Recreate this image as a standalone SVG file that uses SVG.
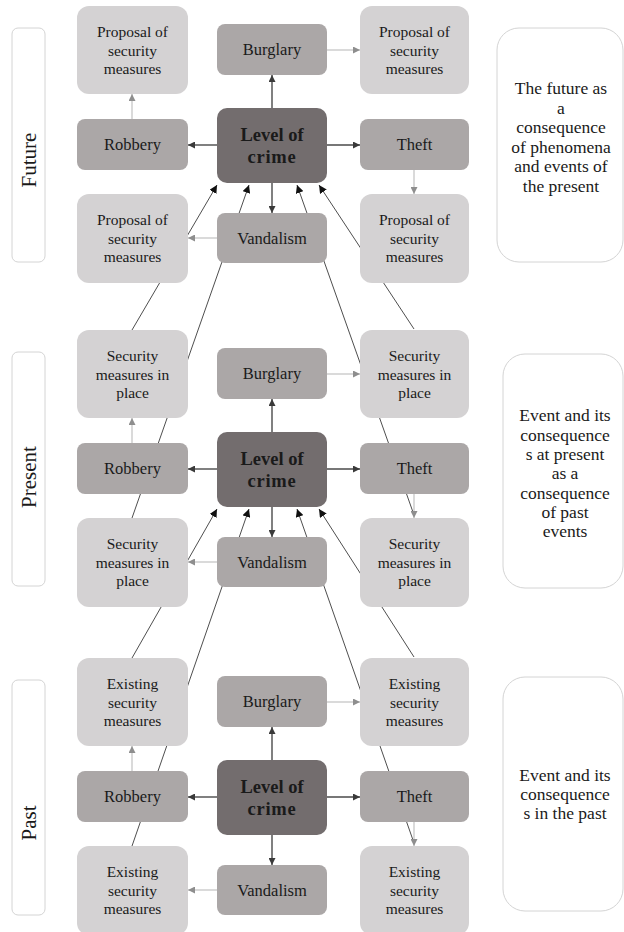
<svg xmlns="http://www.w3.org/2000/svg" width="624" height="932" viewBox="0 0 624 932">
<defs>
<style>
.lt{fill:#d4d2d3;}
.md{fill:#aba7a7;}
.lv{fill:#736d6e;}
.side{fill:#ffffff;stroke:#d4d4d4;stroke-width:1;}
text{font-family:'Liberation Serif','Times New Roman',Times,'DejaVu Serif',serif;fill:#1a1a1a;text-anchor:middle;}
.t15{font-size:15.5px;}
.t16{font-size:16.5px;}
.tb{font-size:18.5px;font-weight:bold;}
.t18{font-size:17.5px;}
.t21{font-size:21px;}
.dk{stroke:#4a4a4a;stroke-width:1.4;fill:none;}
.lg{stroke:#b5b5b5;stroke-width:1;fill:none;}
.xl{stroke:#3a3a3a;stroke-width:0.9;fill:none;}
</style>
<marker id="ad" viewBox="0 0 10 10" refX="10" refY="5" markerWidth="7" markerHeight="7" markerUnits="userSpaceOnUse" orient="auto"><path d="M0,0 L10,5 L0,10 z" fill="#3a3a3a"/></marker>
<marker id="al" viewBox="0 0 10 10" refX="10" refY="5" markerWidth="7" markerHeight="7" markerUnits="userSpaceOnUse" orient="auto"><path d="M0,0 L10,5 L0,10 z" fill="#8e8e8e"/></marker>
<marker id="ax" viewBox="0 0 10 10" refX="10" refY="5" markerWidth="8" markerHeight="8" markerUnits="userSpaceOnUse" orient="auto"><path d="M0,0 L10,5 L0,10 z" fill="#111"/></marker>
</defs>
<rect width="624" height="932" fill="#ffffff"/>

<g id="connectors">
<line class="xl" x1="132" y1="330" x2="217" y2="185" marker-end="url(#ax)"/>
<line class="xl" x1="132" y1="518" x2="249" y2="185" marker-end="url(#ax)"/>
<line class="xl" x1="414" y1="515" x2="297" y2="185" marker-end="url(#ax)"/>
<line class="xl" x1="414" y1="329" x2="319" y2="185" marker-end="url(#ax)"/>
<line class="xl" x1="132" y1="658" x2="217" y2="509" marker-end="url(#ax)"/>
<line class="xl" x1="132" y1="846" x2="249" y2="509" marker-end="url(#ax)"/>
<line class="xl" x1="414" y1="843" x2="297" y2="509" marker-end="url(#ax)"/>
<line class="xl" x1="414" y1="657" x2="319" y2="509" marker-end="url(#ax)"/>
<line class="dk" x1="272" y1="108" x2="272" y2="75" marker-end="url(#ad)"/>
<line class="dk" x1="217" y1="145" x2="188" y2="145" marker-end="url(#ad)"/>
<line class="dk" x1="327" y1="145" x2="360" y2="145" marker-end="url(#ad)"/>
<line class="dk" x1="272" y1="183" x2="272" y2="213" marker-end="url(#ad)"/>
<line class="lg" x1="327" y1="50" x2="360" y2="50" marker-end="url(#al)"/>
<line class="lg" x1="132" y1="119" x2="132" y2="94" marker-end="url(#al)"/>
<line class="lg" x1="414" y1="170" x2="414" y2="194" marker-end="url(#al)"/>
<line class="lg" x1="217" y1="238" x2="188" y2="238" marker-end="url(#al)"/>
<line class="dk" x1="272" y1="432" x2="272" y2="399" marker-end="url(#ad)"/>
<line class="dk" x1="217" y1="469" x2="188" y2="469" marker-end="url(#ad)"/>
<line class="dk" x1="327" y1="469" x2="360" y2="469" marker-end="url(#ad)"/>
<line class="dk" x1="272" y1="507" x2="272" y2="537" marker-end="url(#ad)"/>
<line class="lg" x1="327" y1="374" x2="360" y2="374" marker-end="url(#al)"/>
<line class="lg" x1="132" y1="443" x2="132" y2="418" marker-end="url(#al)"/>
<line class="lg" x1="414" y1="494" x2="414" y2="518" marker-end="url(#al)"/>
<line class="lg" x1="217" y1="562" x2="188" y2="562" marker-end="url(#al)"/>
<line class="dk" x1="272" y1="760" x2="272" y2="727" marker-end="url(#ad)"/>
<line class="dk" x1="217" y1="797" x2="188" y2="797" marker-end="url(#ad)"/>
<line class="dk" x1="327" y1="797" x2="360" y2="797" marker-end="url(#ad)"/>
<line class="dk" x1="272" y1="835" x2="272" y2="865" marker-end="url(#ad)"/>
<line class="lg" x1="327" y1="702" x2="360" y2="702" marker-end="url(#al)"/>
<line class="lg" x1="132" y1="771" x2="132" y2="746" marker-end="url(#al)"/>
<line class="lg" x1="414" y1="822" x2="414" y2="846" marker-end="url(#al)"/>
<line class="lg" x1="217" y1="890" x2="188" y2="890" marker-end="url(#al)"/>
</g>

<g id="label-future"><rect class="side" x="12" y="28" width="33" height="234" rx="6"/><text class="t21" transform="translate(36,160) rotate(-90)">Future</text></g>
<g id="label-present"><rect class="side" x="12" y="352" width="33" height="234" rx="6"/><text class="t21" transform="translate(36,477) rotate(-90)">Present</text></g>
<g id="label-past"><rect class="side" x="12" y="680" width="33" height="235" rx="6"/><text class="t21" transform="translate(36,823) rotate(-90)">Past</text></g>

<g id="f-prop-tl"><rect class="lt" x="77" y="6" width="111" height="88" rx="12"/><text class="t15" x="132.5" y="37">Proposal of</text><text class="t15" x="132.5" y="55.5">security</text><text class="t15" x="132.5" y="74">measures</text></g>
<g id="f-burglary"><rect class="md" x="217" y="24" width="110" height="51" rx="8"/><text class="t16" x="272" y="55">Burglary</text></g>
<g id="f-prop-tr"><rect class="lt" x="360" y="6" width="109" height="88" rx="12"/><text class="t15" x="414.5" y="37">Proposal of</text><text class="t15" x="414.5" y="55.5">security</text><text class="t15" x="414.5" y="74">measures</text></g>
<g id="f-robbery"><rect class="md" x="77" y="119" width="111" height="51" rx="8"/><text class="t16" x="132.5" y="150">Robbery</text></g>
<g id="f-level"><rect class="lv" x="217" y="108" width="110" height="75" rx="10"/><text class="tb" x="272" y="141">Level of</text><text class="tb" x="272" y="163" letter-spacing="0.8">crime</text></g>
<g id="f-theft"><rect class="md" x="360" y="119" width="109" height="51" rx="8"/><text class="t16" x="414.5" y="150">Theft</text></g>
<g id="f-prop-bl"><rect class="lt" x="77" y="194" width="111" height="89" rx="12"/><text class="t15" x="132.5" y="225">Proposal of</text><text class="t15" x="132.5" y="243.5">security</text><text class="t15" x="132.5" y="262">measures</text></g>
<g id="f-vandalism"><rect class="md" x="217" y="213" width="110" height="50" rx="8"/><text class="t16" x="272" y="244">Vandalism</text></g>
<g id="f-prop-br"><rect class="lt" x="360" y="194" width="109" height="89" rx="12"/><text class="t15" x="414.5" y="225">Proposal of</text><text class="t15" x="414.5" y="243.5">security</text><text class="t15" x="414.5" y="262">measures</text></g>

<g id="p-sec-tl"><rect class="lt" x="77" y="330" width="111" height="88" rx="12"/><text class="t15" x="132.5" y="361">Security</text><text class="t15" x="132.5" y="379.5">measures in</text><text class="t15" x="132.5" y="398">place</text></g>
<g id="p-burglary"><rect class="md" x="217" y="348" width="110" height="51" rx="8"/><text class="t16" x="272" y="379">Burglary</text></g>
<g id="p-sec-tr"><rect class="lt" x="360" y="330" width="109" height="88" rx="12"/><text class="t15" x="414.5" y="361">Security</text><text class="t15" x="414.5" y="379.5">measures in</text><text class="t15" x="414.5" y="398">place</text></g>
<g id="p-robbery"><rect class="md" x="77" y="443" width="111" height="51" rx="8"/><text class="t16" x="132.5" y="474">Robbery</text></g>
<g id="p-level"><rect class="lv" x="217" y="432" width="110" height="75" rx="10"/><text class="tb" x="272" y="465">Level of</text><text class="tb" x="272" y="487" letter-spacing="0.8">crime</text></g>
<g id="p-theft"><rect class="md" x="360" y="443" width="109" height="51" rx="8"/><text class="t16" x="414.5" y="474">Theft</text></g>
<g id="p-sec-bl"><rect class="lt" x="77" y="518" width="111" height="89" rx="12"/><text class="t15" x="132.5" y="549">Security</text><text class="t15" x="132.5" y="567.5">measures in</text><text class="t15" x="132.5" y="586">place</text></g>
<g id="p-vandalism"><rect class="md" x="217" y="537" width="110" height="50" rx="8"/><text class="t16" x="272" y="568">Vandalism</text></g>
<g id="p-sec-br"><rect class="lt" x="360" y="518" width="109" height="89" rx="12"/><text class="t15" x="414.5" y="549">Security</text><text class="t15" x="414.5" y="567.5">measures in</text><text class="t15" x="414.5" y="586">place</text></g>

<g id="pa-ex-tl"><rect class="lt" x="77" y="658" width="111" height="88" rx="12"/><text class="t15" x="132.5" y="689">Existing</text><text class="t15" x="132.5" y="707.5">security</text><text class="t15" x="132.5" y="726">measures</text></g>
<g id="pa-burglary"><rect class="md" x="217" y="676" width="110" height="51" rx="8"/><text class="t16" x="272" y="707">Burglary</text></g>
<g id="pa-ex-tr"><rect class="lt" x="360" y="658" width="109" height="88" rx="12"/><text class="t15" x="414.5" y="689">Existing</text><text class="t15" x="414.5" y="707.5">security</text><text class="t15" x="414.5" y="726">measures</text></g>
<g id="pa-robbery"><rect class="md" x="77" y="771" width="111" height="51" rx="8"/><text class="t16" x="132.5" y="802">Robbery</text></g>
<g id="pa-level"><rect class="lv" x="217" y="760" width="110" height="75" rx="10"/><text class="tb" x="272" y="793">Level of</text><text class="tb" x="272" y="815" letter-spacing="0.8">crime</text></g>
<g id="pa-theft"><rect class="md" x="360" y="771" width="109" height="51" rx="8"/><text class="t16" x="414.5" y="802">Theft</text></g>
<g id="pa-ex-bl"><rect class="lt" x="77" y="846" width="111" height="89" rx="12"/><text class="t15" x="132.5" y="877">Existing</text><text class="t15" x="132.5" y="895.5">security</text><text class="t15" x="132.5" y="914">measures</text></g>
<g id="pa-vandalism"><rect class="md" x="217" y="865" width="110" height="50" rx="8"/><text class="t16" x="272" y="896">Vandalism</text></g>
<g id="pa-ex-br"><rect class="lt" x="360" y="846" width="109" height="89" rx="12"/><text class="t15" x="414.5" y="877">Existing</text><text class="t15" x="414.5" y="895.5">security</text><text class="t15" x="414.5" y="914">measures</text></g>

<g id="desc-future"><rect class="side" x="497" y="28" width="126" height="234" rx="22"/>
<text class="t18" x="561" y="94">The future as</text><text class="t18" x="561" y="113.5">a</text><text class="t18" x="561" y="133">consequence</text><text class="t18" x="561" y="152.5">of phenomena</text><text class="t18" x="561" y="172">and events of</text><text class="t18" x="561" y="191.5">the present</text></g>
<g id="desc-present"><rect class="side" x="503" y="354" width="120" height="234" rx="22"/>
<text class="t18" x="565" y="421">Event and its</text><text class="t18" x="565" y="440.5">consequence</text><text class="t18" x="565" y="460">s at present</text><text class="t18" x="565" y="479">as a</text><text class="t18" x="565" y="498.5">consequence</text><text class="t18" x="565" y="518">of past</text><text class="t18" x="565" y="537">events</text></g>
<g id="desc-past"><rect class="side" x="503" y="677" width="120" height="234" rx="22"/>
<text class="t18" x="565" y="781">Event and its</text><text class="t18" x="565" y="800">consequence</text><text class="t18" x="565" y="819">s in the past</text></g>
</svg>
